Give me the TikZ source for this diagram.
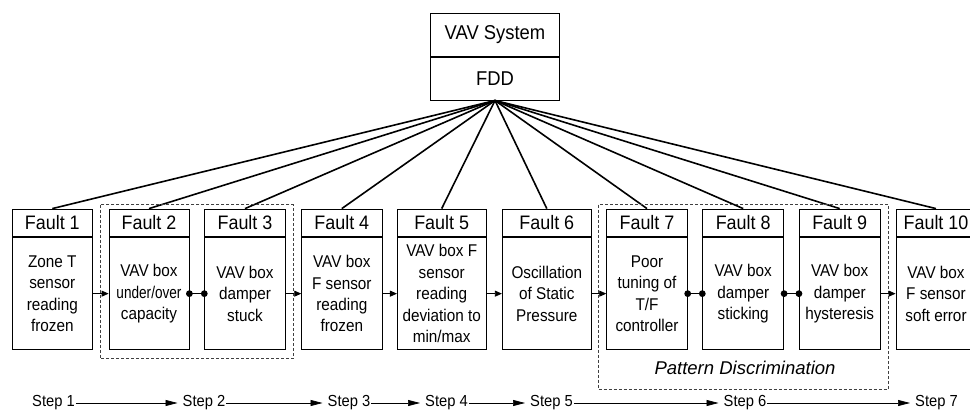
\documentclass[tikz,border=0pt]{standalone}
\usepackage{fontspec}
\setmainfont{Liberation Sans}
\newfontfamily\bodyfont[FakeStretch=0.9]{Liberation Sans}
\newfontfamily\tightfont[FakeStretch=0.8]{Liberation Sans}
\newfontfamily\hdrfont[FakeStretch=0.92]{Liberation Sans}
\usetikzlibrary{arrows.meta}
\begin{document}
\begin{tikzpicture}[x=1pt,y=-1pt,
  hdr/.style={draw,line width=0.8pt,minimum height=27.7pt,inner sep=0pt,font=\hdrfont\fontsize{19.5}{21}\selectfont},
  bdy/.style={draw,line width=0.8pt,minimum height=112.3pt,inner sep=0pt,align=center,font=\bodyfont\fontsize{17}{21.4}\selectfont},
  sysbox/.style={draw,line width=0.8pt,minimum width=128.6pt,inner sep=0pt,font=\hdrfont\fontsize{20}{21}\selectfont},
  tree/.style={line width=1.6pt},
  flow/.style={line width=0.8pt,-{Triangle[length=7pt,width=6pt]}},
  link/.style={line width=0.8pt},
  dot/.style={fill=black},
  group/.style={draw=black!75,line width=0.8pt,dash pattern=on 3pt off 2pt},
  steplbl/.style={inner sep=1pt,font=\hdrfont\fontsize{16}{18}\selectfont},
  stepflow/.style={line width=0.7pt,shorten >=4pt,-{Triangle[length=12pt,width=6pt]}},
  patt/.style={font=\fontsize{18.5}{21}\selectfont\itshape}
]
\clip (0,0) rectangle (970,412);
\useasboundingbox (0,0) rectangle (970,412);

% top system box
\node[sysbox,minimum height=43.4pt] (sys1) at (495,35) {VAV System};
\node[sysbox,minimum height=42.6pt,anchor=north] (sys2) at (sys1.south) {FDD};

% fault boxes
\foreach \n/\x/\w/\t in {
  1/52.3/80/{Zone T\\sensor\\reading\\frozen},
  2/149/80/{VAV box\\{\tightfont under/over}\\capacity},
  3/245/80.6/{VAV box\\damper\\stuck},
  4/341.8/80.3/{VAV box\\F sensor\\reading\\frozen},
  5/441.7/88.7/{VAV box F\\sensor\\reading\\deviation to\\min/max},
  6/546.8/89/{Oscillation\\of Static\\Pressure},
  7/647/80.6/{Poor\\tuning of\\T/F\\controller},
  8/743.2/81/{VAV box\\damper\\sticking},
  9/839.7/80.7/{VAV box\\damper\\hysteresis},
  10/936/80/{VAV box\\F sensor\\soft error}}{
  \node[hdr,minimum width=\w pt] (h\n) at (\x,222.85) {Fault \n};
  \node[bdy,minimum width=\w pt,anchor=north] (b\n) at (h\n.south) {\t};
}

% tree lines
\foreach \n in {1,...,10}{
  \draw[tree] (sys2.south) -- (h\n.north);
}

% groups
\draw[group] (100.3,204.7) rectangle (293.3,358.7);
\draw[group] (598.3,204.7) rectangle (888.3,389.3);
\node[patt] (pd) at (745,368) {Pattern Discrimination};

% flow connectors
\draw[flow] (b1.east) -- (b2.west);
\draw[flow] (b3.east) -- (b4.west);
\draw[flow] (b4.east) -- (b5.west);
\draw[flow] (b5.east) -- (b6.west);
\draw[flow] (b6.east) -- (b7.west);
\draw[flow] (b9.east) -- (b10.west);
\foreach \a/\b in {2/3,7/8,8/9}{
  \draw[link] (b\a.east) -- (b\b.west);
  \fill[dot] (b\a.east) circle (3.4pt);
  \fill[dot] (b\b.west) circle (3.4pt);
}

% steps
\node[steplbl] (s1) at (53.5,403) {Step 1};
\node[steplbl] (s2) at (204,403) {Step 2};
\node[steplbl] (s3) at (349,403) {Step 3};
\node[steplbl] (s4) at (446.5,403) {Step 4};
\node[steplbl] (s5) at (551.5,403) {Step 5};
\node[steplbl] (s6) at (745,403) {Step 6};
\node[steplbl] (s7) at (936.5,403) {Step 7};
\foreach \a/\b in {1/2,2/3,3/4,4/5,5/6,6/7}{
  \draw[stepflow] (s\a.east) -- (s\b.west);
}
\end{tikzpicture}
\end{document}
